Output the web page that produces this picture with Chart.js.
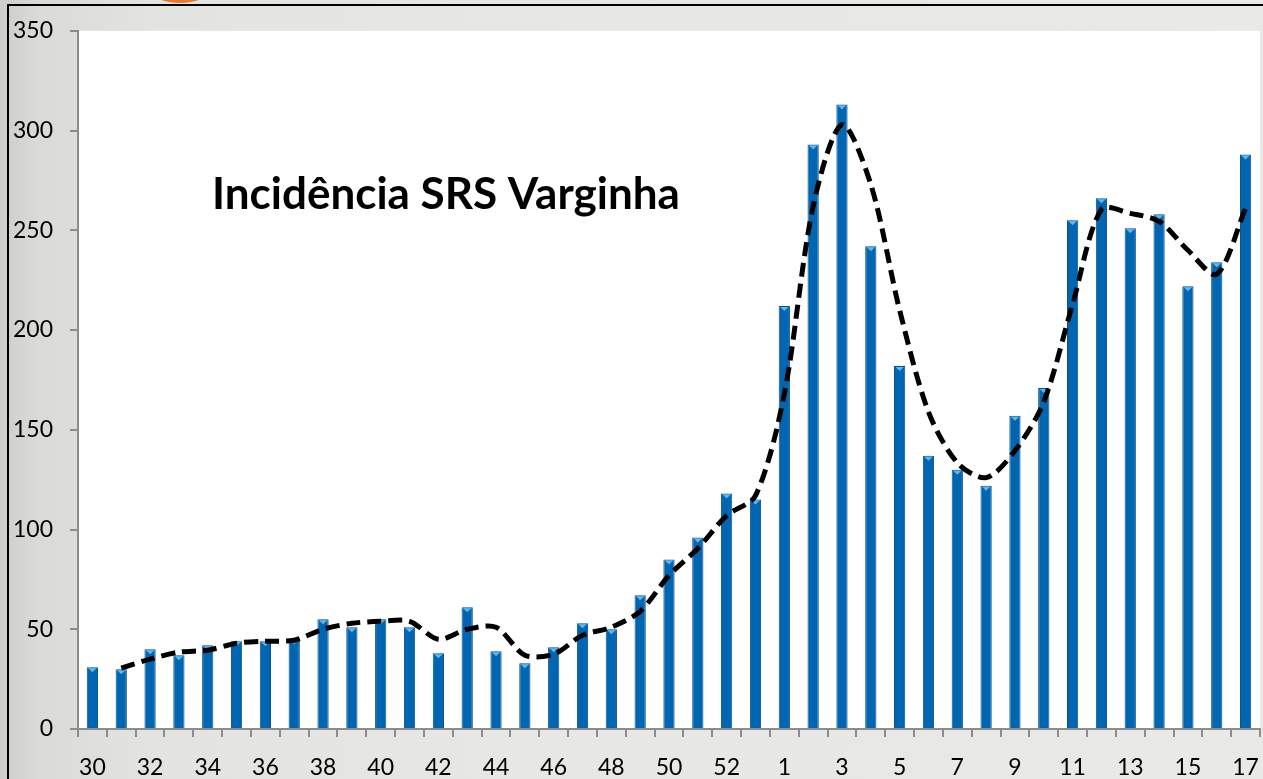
<!DOCTYPE html>
<html>
<head>
<meta charset="utf-8">
<script src="https://cdn.jsdelivr.net/npm/chart.js@4/dist/chart.umd.min.js"></script>
<style>
    html, body { margin: 0; padding: 0; }
    body {
        width: 1263px; height: 779px; overflow: hidden; position: relative;
        background: linear-gradient(90deg, #cdcdcb 0%, #dadad8 3%, #e3e3e1 12%, #e7e7e5 40%, #e9e9e7 100%);
    }
    .frame-top { position: absolute; left: 8px; top: 4px; right: 0; height: 2px; background: #000; }
    .frame-left { position: absolute; left: 7px; top: 4px; bottom: 0; width: 2px; background: #000; }
    .logo { position: absolute; left: 156px; top: -14px; width: 48px; height: 17px; border-radius: 50%; background: #e8782a; }
    #wrap { position: absolute; left: 0; top: 0; width: 1263px; height: 779px; }
</style>
</head>
<body>
<div class="logo"></div>
<div class="frame-top"></div>
<div class="frame-left"></div>
<div id="wrap"><canvas id="chart"></canvas></div>
<script>
// ===== Data =====
const weeks = ['30','31','32','33','34','35','36','37','38','39','40','41','42','43','44','45','46','47','48','49','50','51','52','53',
               '1','2','3','4','5','6','7','8','9','10','11','12','13','14','15','16','17'];
const cases = [31, 30, 40, 37, 42, 44, 44, 45, 55, 51, 55, 51, 38, 61, 39, 33, 41, 53, 50, 67, 85, 96, 118, 115,
               212, 293, 313, 242, 182, 137, 130, 122, 157, 171, 255, 266, 251, 258, 222, 234, 288];
const trend = [null, 30.5, 35, 38.5, 39.5, 43, 44, 44.5, 50, 53, 54, 54, 45, 50, 51, 37, 37.5, 47, 51, 59, 77, 90.5, 107, 117,
               168, 262, 303, 273, 210, 159, 133.5, 126, 139.5, 164, 213, 260.5, 258.5, 254.5, 240, 228, 261];
const yTicks = [0, 50, 100, 150, 200, 250, 300, 350];
const chartTitle = 'Incidência SRS Varginha';

const FONT = "Lato, 'Open Sans', sans-serif";
const AXIS_GRAY = '#8c8c8c';

// white plot area + title inside it
const plotBackground = {
    id: 'plotBackground',
    beforeDraw(chart) {
        const { ctx, chartArea: a } = chart;
        ctx.save();
        ctx.fillStyle = '#ffffff';
        ctx.fillRect(a.left, a.top, a.right - a.left, a.bottom - a.top);
        ctx.restore();
    },
    afterDraw(chart) {
        const { ctx, chartArea: a } = chart;
        ctx.save();
        ctx.font = `bold 44px ${FONT}`;
        ctx.fillStyle = '#000';
        ctx.textBaseline = 'alphabetic';
        ctx.fillText(chartTitle, a.left + 134, a.top + 178);
        ctx.restore();
    }
};

// light bevel triangle at the top of each bar
const barCaps = {
    id: 'barCaps',
    afterDatasetDraw(chart, args) {
        if (args.index !== 0) return;
        const { ctx } = chart;
        ctx.save();
        ctx.fillStyle = '#5bb8f0';
        args.meta.data.forEach(bar => {
            const hw = bar.width / 2 - 1.5;
            ctx.beginPath();
            ctx.moveTo(bar.x - hw, bar.y + 1);
            ctx.lineTo(bar.x + hw, bar.y + 1);
            ctx.lineTo(bar.x, bar.y + 5);
            ctx.closePath();
            ctx.fill();
        });
        ctx.restore();
    }
};

new Chart(document.getElementById('chart'), {
    data: {
        labels: weeks,
        datasets: [
            {
                type: 'bar',
                data: cases,
                backgroundColor: '#0066b2',
                borderColor: '#0a4f8c',
                borderWidth: 1,
                barPercentage: 0.39,
                categoryPercentage: 1,
                order: 1
            },
            {
                type: 'line',
                data: trend,
                borderColor: '#000000',
                borderWidth: 5,
                borderDash: [14, 7],
                pointRadius: 0,
                tension: 0.3,
                fill: false,
                order: 0
            }
        ]
    },
    options: {
        responsive: true,
        maintainAspectRatio: false,
        animation: false,
        layout: { padding: { left: 0, top: 23, right: 3, bottom: 0 } },
        plugins: { legend: { display: false }, tooltip: { enabled: false }, title: { display: false } },
        scales: {
            x: {
                offset: true,
                grid: { display: true, offset: true, drawOnChartArea: false, drawTicks: true, tickLength: 8, color: AXIS_GRAY, lineWidth: 2 },
                border: { display: true, color: AXIS_GRAY, width: 2 },
                ticks: {
                    autoSkip: false, maxRotation: 0, padding: 17,
                    color: '#000', font: { family: FONT, size: 23 },
                    callback: (v, i) => (i % 2 === 0 ? weeks[i] : '')
                },
                afterFit: (s) => { s.height = 50; s.paddingLeft = 0; s.paddingRight = 0; }
            },
            y: {
                min: 0, max: 350,
                afterBuildTicks: (s) => { s.ticks = yTicks.map(v => ({ value: v })); },
                grid: { display: true, drawOnChartArea: false, drawTicks: true, tickLength: 8, color: AXIS_GRAY, lineWidth: 2 },
                border: { display: true, color: AXIS_GRAY, width: 2 },
                ticks: { padding: 17, color: '#000', font: { family: FONT, size: 23 } },
                afterFit: (s) => { s.width = 78; }
            }
        }
    },
    plugins: [plotBackground, barCaps]
});
</script>
</body>
</html>
